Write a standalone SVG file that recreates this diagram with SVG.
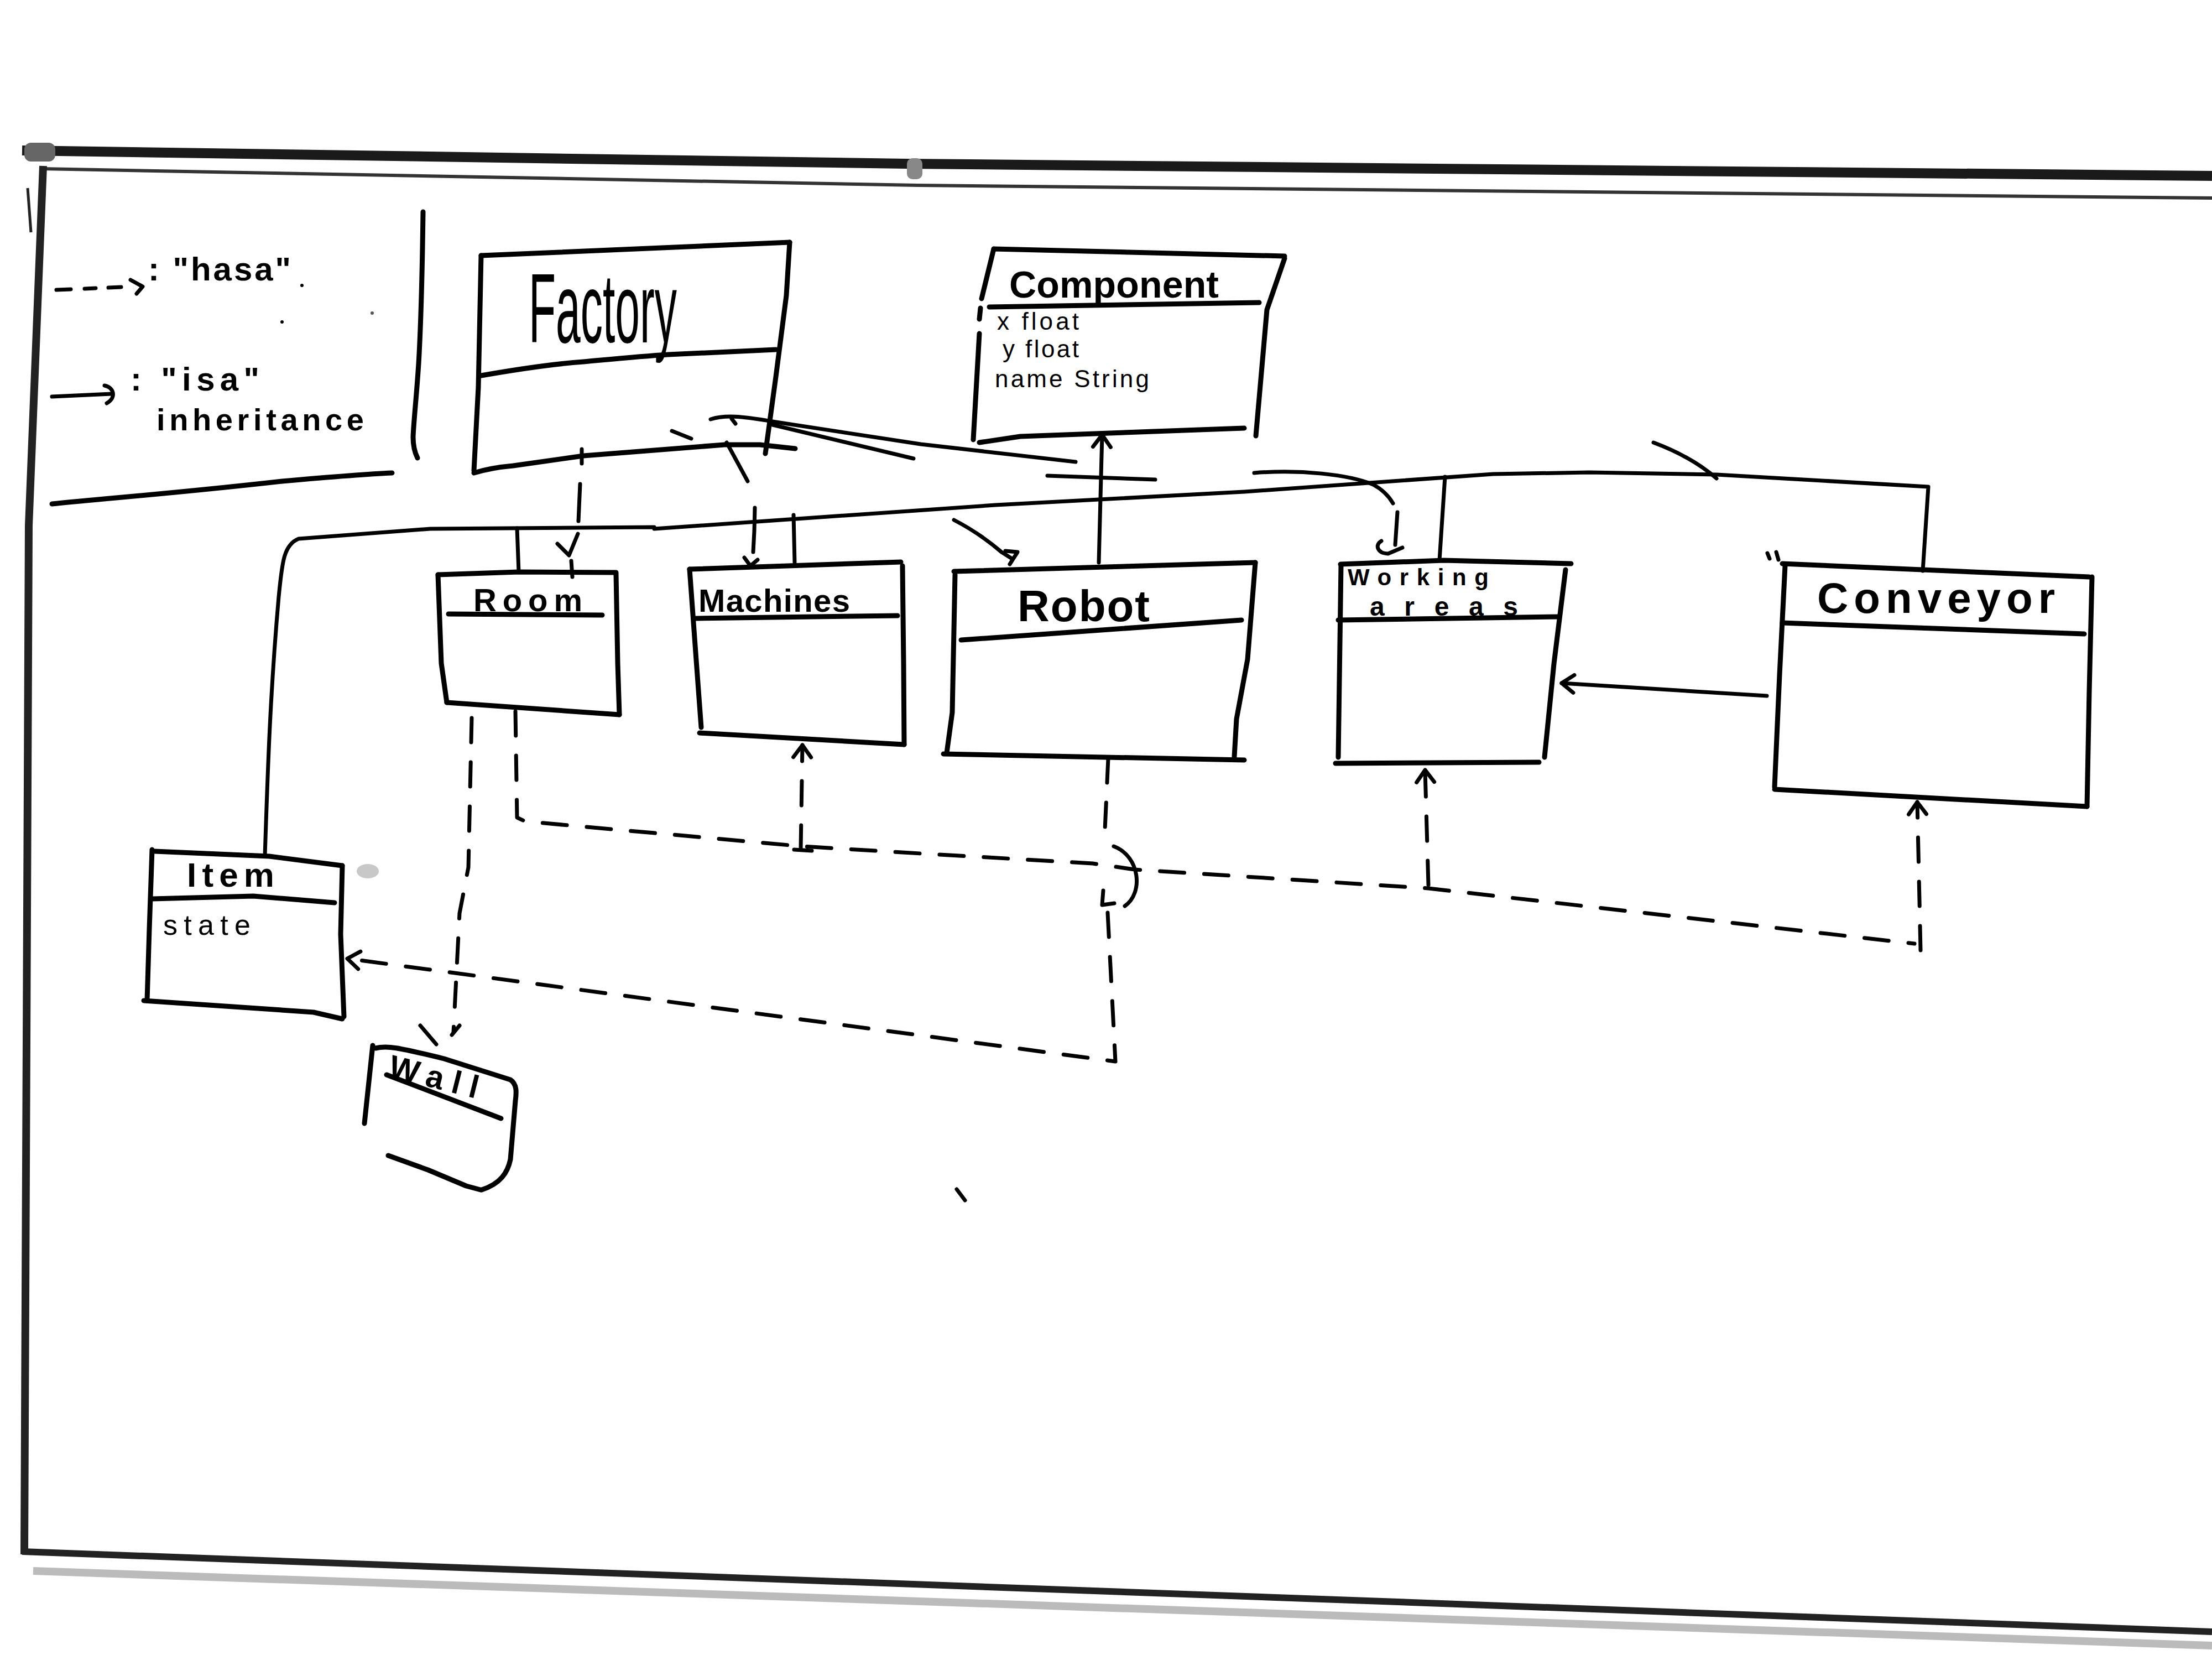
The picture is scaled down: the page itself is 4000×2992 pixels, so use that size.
<svg xmlns="http://www.w3.org/2000/svg" width="4000" height="2992" viewBox="0 0 4000 2992">
<defs>
<style>
.ink{fill:none;stroke:#000;stroke-width:9;stroke-linecap:round;stroke-linejoin:round}
.con{fill:none;stroke:#000;stroke-width:7;stroke-linecap:round;stroke-linejoin:round}
.dash{stroke-dasharray:44 36}
.t{font-family:"Liberation Sans",Arial,sans-serif;fill:#000}
.b{font-weight:bold}
</style>
<marker id="arrow" viewBox="-30 -22 36 44" markerWidth="36" markerHeight="44" refX="0" refY="0" orient="auto" markerUnits="userSpaceOnUse">
<path d="M-22,-16 L0,0 L-22,16" fill="none" stroke="#000" stroke-width="7" stroke-linecap="round" stroke-linejoin="round"/>
</marker>
</defs>
<rect x="0" y="0" width="4000" height="2992" fill="#fff"/>

<g id="board">
<path d="M40,272 L1640,296 L4000,318" fill="none" stroke="#1a1a1a" stroke-width="18"/>
<path d="M75,305 L1660,335 L4000,358" fill="none" stroke="#333" stroke-width="6"/>
<rect x="44" y="258" width="56" height="34" rx="12" fill="#666"/>
<rect x="1640" y="286" width="28" height="38" rx="10" fill="#888"/>
<path d="M78,300 L52,950 L44,2810" fill="none" stroke="#222" stroke-width="14"/>
<path d="M50,340 L56,420" fill="none" stroke="#222" stroke-width="5"/>
<path d="M40,2805 L4000,2950" fill="none" stroke="#222" stroke-width="12"/>
<path d="M60,2840 L4000,2975" fill="none" stroke="#bbb" stroke-width="14"/>
</g>

<g id="legend">
<path class="con" d="M102,524 L128,523 M153,522 L173,521 M196,520 L219,519"/>
<path class="con" d="M236,506 L258,518 L247,531"/>
<path class="con" d="M94,717 L202,712"/>
<path class="con" d="M189,697 C205,700 212,718 193,729"/>
<text class="t b" x="268" y="507" font-size="60" textLength="258" lengthAdjust="spacing">: "hasa"</text>
<text class="t b" x="236" y="706" font-size="60" textLength="233" lengthAdjust="spacing">: "isa"</text>
<text class="t b" x="283" y="778" font-size="56" textLength="375" lengthAdjust="spacing">inheritance</text>
<path class="ink" d="M94,911 C200,900 306,893 510,870 C600,862 660,857 709,855"/>
<path class="ink" d="M765,383 C764,460 763,541 758,640 C755,700 748,760 747,790 C747,805 750,818 755,828"/>
<circle cx="546" cy="516" r="3" fill="#000"/>
<circle cx="510" cy="582" r="3" fill="#000"/>
<circle cx="673" cy="566" r="3" fill="#555"/>
</g>

<g id="factory">
<path class="ink" d="M870,462 L1428,438"/>
<path class="ink" d="M870,462 L865,700 L857,851"/>
<path class="ink" d="M1428,438 L1422,534 L1403,681 L1384,820"/>
<path class="ink" d="M870,679 C950,665 1000,658 1055,654 C1120,648 1160,644 1208,641 L1403,632"/>
<path class="ink" d="M857,855 C880,848 905,844 928,842 L1055,824 L1310,804 L1374,804 L1438,811"/>
<text class="t" x="956" y="619" font-size="178" textLength="268" lengthAdjust="spacingAndGlyphs">Factory</text>
</g>

<g id="component">
<path class="ink" d="M1797,450 L2323,463"/>
<path class="ink" d="M1797,450 L1775,540 M1773,557 L1771,577 M1771,603 L1760,795"/>
<path class="ink" d="M2323,467 L2291,560 L2271,788"/>
<path class="ink" d="M1789,555 L2277,547"/>
<path class="ink" d="M1771,800 L1845,789 L2250,774"/>
<text class="t b" x="1825" y="538" font-size="68" textLength="379" lengthAdjust="spacing">Component</text>
<text class="t" x="1803" y="596" font-size="44" textLength="148" lengthAdjust="spacing">x float</text>
<text class="t" x="1813" y="646" font-size="44" textLength="138" lengthAdjust="spacing">y float</text>
<text class="t" x="1799" y="700" font-size="44" textLength="279" lengthAdjust="spacing">name String</text>
</g>

<g id="room">
<path class="ink" d="M792,1039 L938,1034 L1114,1035"/>
<path class="ink" d="M792,1039 L798,1199 L808,1270"/>
<path class="ink" d="M1114,1037 L1117,1199 L1120,1292"/>
<path class="ink" d="M808,1270 L1120,1292"/>
<path class="ink" d="M811,1110 L1089,1112"/>
<text class="t b" x="856" y="1105" font-size="58" textLength="197" lengthAdjust="spacing">Room</text>
</g>

<g id="machines">
<path class="ink" d="M1247,1029 L1629,1016"/>
<path class="ink" d="M1247,1029 L1258,1180 L1268,1315"/>
<path class="ink" d="M1632,1023 L1634,1200 L1635,1346"/>
<path class="ink" d="M1265,1325 L1635,1346"/>
<path class="ink" d="M1259,1118 L1623,1113"/>
<text class="t b" x="1263" y="1106" font-size="58" textLength="274" lengthAdjust="spacing">Machines</text>
</g>

<g id="robot">
<path class="ink" d="M1725,1033 L2270,1017"/>
<path class="ink" d="M1727,1039 L1722,1288 L1712,1361"/>
<path class="ink" d="M2270,1017 L2256,1192 L2236,1300 L2232,1368"/>
<path class="ink" d="M1706,1363 L2250,1374"/>
<path class="ink" d="M1738,1157 L2245,1121"/>
<text class="t b" x="1840" y="1123" font-size="80" textLength="239" lengthAdjust="spacing">Robot</text>
</g>

<g id="working-areas">
<path class="ink" d="M2424,1020 L2611,1013 L2841,1019"/>
<path class="ink" d="M2425,1021 L2421,1300 L2420,1369"/>
<path class="ink" d="M2831,1030 L2810,1200 L2793,1369"/>
<path class="ink" d="M2415,1380 L2783,1378"/>
<path class="ink" d="M2420,1121 L2817,1115"/>
<text class="t b" x="2437" y="1058" font-size="42" textLength="255" lengthAdjust="spacing">Working</text>
<text class="t b" x="2477" y="1113" font-size="48" textLength="268" lengthAdjust="spacing">areas</text>
</g>

<g id="conveyor">
<path class="ink" d="M3223,1019 L3778,1043"/>
<path class="ink" d="M3228,1023 L3218,1220 L3209,1423"/>
<path class="ink" d="M3783,1043 L3778,1250 L3774,1458"/>
<path class="ink" d="M3209,1427 L3774,1458"/>
<path class="ink" d="M3223,1126 L3769,1146"/>
<text class="t b" x="3286" y="1108" font-size="78" textLength="430" lengthAdjust="spacing">Conveyor</text>
</g>

<g id="item">
<path class="ink" d="M280,1539 L487,1548 L619,1565"/>
<path class="ink" d="M275,1536 L270,1680 L266,1809"/>
<path class="ink" d="M619,1565 L616,1689 L622,1838"/>
<path class="ink" d="M260,1809 L567,1830 L619,1842"/>
<path class="ink" d="M275,1625 L458,1620 L605,1632"/>
<text class="t b" x="338" y="1603" font-size="62" textLength="158" lengthAdjust="spacing">Item</text>
<text class="t" x="295" y="1690" font-size="52" textLength="158" lengthAdjust="spacing">state</text>
<ellipse cx="665" cy="1575" rx="20" ry="13" fill="#c8c8c8"/>
</g>

<g id="wall">
<path class="ink" d="M679,1895 C700,1890 717,1893 803,1914 L923,1952 C935,1960 934,1975 932,1990 L923,2096 C918,2120 905,2140 871,2151"/>
<path class="ink" d="M674,1890 L659,2031"/>
<path class="ink" d="M702,2089 L774,2115 L843,2144 L869,2151"/>
<path class="ink" d="M699,1943 L906,2022"/>
<text class="t b" x="700" y="1946" font-size="58" textLength="165" lengthAdjust="spacing" transform="rotate(14 700 1946)">Wall</text>
</g>

<g id="connectors">
<path class="con" d="M479,1547 C484,1400 488,1260 504,1079 C510,1020 512,985 540,974 L778,956 L1183,953 M1183,956 L1800,913 L2250,889 L2700,857 L2874,854 L3104,858 L3487,880 L3477,1032"/>
<path class="con" d="M935,955 L938,1034"/>
<path class="con" d="M1435,931 L1437,1017"/>
<path class="con" d="M2613,862 L2603,1013"/>
<path class="con" d="M1987,1017 L1990,900 L1993,786" marker-end="url(#arrow)"/>
<path class="con" d="M3195,1258 L2824,1235" marker-end="url(#arrow)"/>
<path class="con" d="M1052,812 L1052,838 M1049,875 L1046,942 M1033,1014 L1035,1043"/>
<path class="con" d="M1008,983 L1029,1004 L1045,965"/>
<path class="con" d="M1314,800 L1352,870 M1365,918 L1364,960 L1362,998"/>
<path class="con" d="M1346,1008 L1357,1023 L1370,1012"/>
<path class="con" d="M1397,768 L1652,829"/>
<path class="con" d="M1725,940 C1760,958 1790,980 1811,998 L1830,1010"/>
<path class="con" d="M1818,996 L1840,998 L1826,1020"/>
<path class="con" d="M1285,758 C1310,750 1340,752 1397,762 L1665,803 L1945,835"/>
<path class="con" d="M1323,757 L1330,766 M1215,779 L1250,793"/>
<path class="con" d="M1894,860 L2089,867"/>
<path class="con" d="M2268,855 C2350,848 2440,858 2483,876 C2500,885 2512,898 2519,910"/>
<path class="con" d="M2527,926 L2523,985"/>
<path class="con" d="M2498,978 C2486,985 2490,1000 2510,1001 L2536,990"/>
<path class="con" d="M2990,800 C3030,815 3070,835 3104,865"/>
<path class="con" d="M3196,1000 L3200,1010 M3212,998 L3216,1012"/>
<path class="con dash" d="M932,1286 L935,1478 L950,1485 L1450,1530 L1665,1543 L1976,1561 L2052,1572 L2583,1606 L3093,1664 L3462,1706"/>
<path class="con dash" d="M1448,1536 L1451,1347" marker-end="url(#arrow)"/>
<path class="con" d="M1436,1536 L1468,1538"/>
<path class="con dash" d="M2583,1600 L2577,1392" marker-end="url(#arrow)"/>
<path class="con dash" d="M3473,1718 L3467,1450" marker-end="url(#arrow)"/>
<path class="con dash" d="M2004,1371 L1997,1522"/>
<path class="con" d="M2014,1530 C2062,1548 2068,1615 2034,1638 M1995,1610 L1993,1636 L2015,1633"/>
<path class="con dash" d="M2003,1650 L2017,1919 L628,1733" marker-end="url(#arrow)"/>
<path class="con dash" d="M853,1298 L847,1568 L831,1651 L820,1866"/>
<path class="con" d="M760,1854 L789,1888 M831,1854 L817,1871"/>
<path class="con" d="M1730,2150 L1745,2170"/>
</g>
</svg>
